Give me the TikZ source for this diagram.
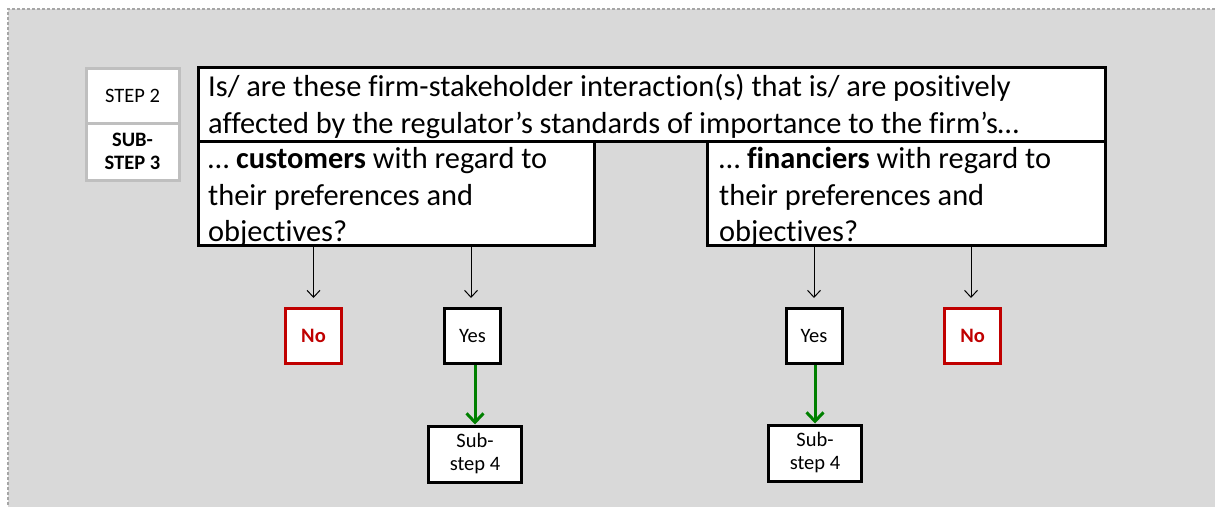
\documentclass[tikz,border=0pt]{standalone}
\usepackage{fontspec}
\setmainfont{Carlito}[Ligatures=NoCommon]
\usetikzlibrary{arrows.meta}
\definecolor{bggray}{HTML}{D9D9D9}
\definecolor{framegray}{HTML}{A6A6A6}
\definecolor{stepgray}{HTML}{BFBFBF}
\definecolor{nored}{HTML}{C00000}
\definecolor{yesgreen}{HTML}{008000}
\newcommand{\bigtext}{\fontsize{30.4}{36.5}\selectfont}
\newcommand{\smalltext}{\fontsize{20.5}{23}\selectfont}
\begin{document}
\begin{tikzpicture}[x=1pt,y=-1pt,
  qbox/.style={draw, fill=white, line width=2.8pt, inner sep=0pt, anchor=north west},
  qtext/.style={anchor=north west, inner sep=0pt, align=left, font=\bigtext},
  stepbox/.style={draw=stepgray, fill=white, line width=3pt, inner sep=0pt,
    minimum width=93pt, anchor=north west, align=center, font=\smalltext},
  yesbox/.style={draw, fill=white, line width=3pt, inner sep=0pt, align=center,
    minimum width=56pt, minimum height=55pt, font=\smalltext},
  nobox/.style={draw=nored, fill=white, line width=3pt, inner sep=0pt,
    minimum width=56pt, minimum height=55pt, text=nored, font=\smalltext\bfseries},
  subbox/.style={draw, fill=white, line width=3pt, inner sep=0pt, align=center,
    minimum width=93pt, minimum height=56pt, font=\smalltext},
  arr/.style={line width=1pt, -{Straight Barb[length=7pt,width=13pt]}},
  garr/.style={draw=yesgreen, line width=3pt, -{Straight Barb[length=9pt,width=17pt]}}
]
\useasboundingbox (0,0) rectangle (1215,506);
\clip (0,0) rectangle (1215,506);

% grey panel with a dotted frame
\fill[bggray] (8,9) rectangle (1240,530);
\draw[framegray, line width=1.6pt, dash pattern=on 3pt off 2pt] (8,530) -- (8,9) -- (1240,9);

% step labels
\node[stepbox, minimum height=55pt] (step) at (84.5,66.5) {STEP 2};
\node[stepbox, minimum height=57pt, font=\smalltext\bfseries] (sub) at (84.5,121.5) {SUB-\\STEP 3};

% question boxes
\node[qbox, minimum width=396pt, minimum height=104pt] (cust) at (197,140) {};
\node[qbox, minimum width=398pt, minimum height=104pt] (fin) at (706,140) {};
\node[qbox, minimum width=907pt, minimum height=74pt] (q) at (197,66) {};

\node[qtext] (qt) at (208,71) {\strut Is/ are these firm-stakeholder interaction(s) that is/ are positively\\
  \strut affected by the regulator’s standards of importance to the firm’s…};
\node[qtext] (ct) at (208,143) {\strut … \textbf{customers} with regard to\\
  \strut their preferences and\\ \strut objectives?};
\node[qtext] (ft) at (719,143) {\strut … \textbf{financiers} with regard to\\
  \strut their preferences and\\ \strut objectives?};

% answers
\node[nobox] (noL) at (313.5,336) {No};
\node[yesbox] (yesL) at (472.5,336) {Yes};
\node[subbox] (subL) at (475,454) {Sub-\\step 4};
\node[yesbox] (yesR) at (814,336) {Yes};
\node[nobox] (noR) at (972.5,336) {No};
\node[subbox] (subR) at (815,453) {Sub-\\step 4};

% connectors
\draw[arr] (noL.north |- cust.south) -- ([yshift=9pt]noL.north);
\draw[arr] ([xshift=-1.5pt]yesL.north |- cust.south) -- ([xshift=-1.5pt,yshift=9pt]yesL.north);
\draw[arr] (yesR.north |- fin.south) -- ([yshift=9pt]yesR.north);
\draw[arr] ([xshift=-1.5pt]noR.north |- fin.south) -- ([xshift=-1.5pt,yshift=9pt]noR.north);
\draw[garr] (subL.north |- yesL.south) -- (subL.north);
\draw[garr] (subR.north |- yesR.south) -- (subR.north);
\end{tikzpicture}
\end{document}
